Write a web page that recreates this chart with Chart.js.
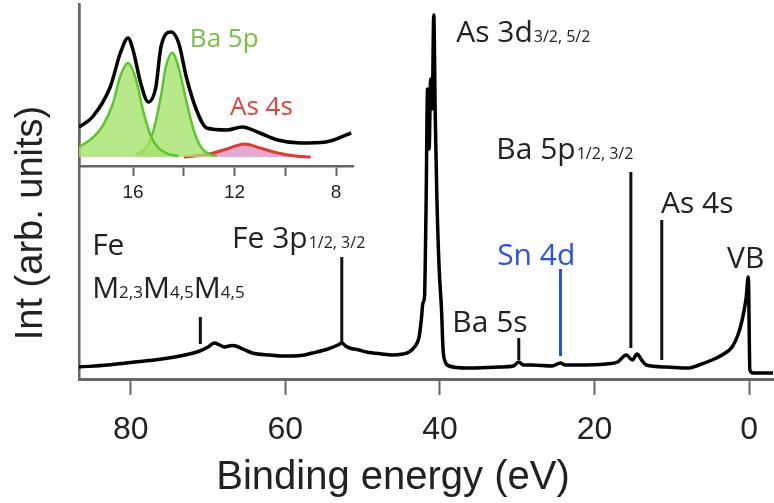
<!DOCTYPE html>
<html lang="en">
<head>
    <meta charset="UTF-8">
    <title>Binding energy spectrum</title>
    <script src="https://cdn.jsdelivr.net/npm/chart.js"></script>
    <style>
        body { margin: 0; background: #fff; }
        #wrap { position: relative; width: 774px; height: 503px; overflow: hidden; }
        #mainChart { position: absolute; left: 0; top: 0; }
        #insetChart { position: absolute; left: 0; top: 0; }
    </style>
</head>
<body>
<div id="wrap">
    <canvas id="mainChart" width="774" height="503"></canvas>
    <canvas id="insetChart" width="360" height="212"></canvas>
</div>

<script>
    // ---- main spectrum (binding energy in eV, intensity in arb. units)
    var energy = [86.7, 83, 80, 76, 73, 71.1, 70, 69.2, 68.5, 67.9, 66.9, 66.4, 65.5, 64.3, 62, 59.9, 58, 56.5, 54.5, 53.2,
        52.7, 52.2, 51.7, 50.5, 49.5, 47.5, 46.2, 44.8, 44.0, 43.3, 42.7, 42.4, 42.2, 42.0, 41.8, 41.6, 41.4, 41.2, 41.0, 40.8,
        40.6, 40.4, 40.1, 39.8, 39.6, 39.3, 38.8, 36.6, 32.3, 30.5, 29.8, 29.2, 28.1, 25.5, 24.4, 23.8, 22.4, 18.5, 17.0, 15.9,
        15.1, 14.5, 13.9, 13.3, 10.7, 7.8, 6.5, 4.8, 3.5, 2.2, 1.4, 0.9, 0.4, 0.1, -0.1, -0.5, -3.1];
    var intensity = [12, 14, 16.5, 20, 24, 28, 32, 36, 34, 32, 33.5, 33, 30, 26, 24, 23, 23.5, 26, 30, 34,
        36, 33, 31, 29, 27, 25, 24, 25, 27, 32, 42, 60, 76, 82, 170, 290, 230, 300, 270, 364,
        260, 182, 110, 70, 30, 17, 13, 11, 12, 13, 17, 14, 14, 13, 16, 14, 14, 15, 17, 24,
        19, 25, 19, 14, 12, 11, 14, 19, 24, 32, 45, 59, 80, 102, 9, 6, 6];

    var xTicks = [80, 60, 40, 20, 0];

    // marker lines: energy, from, to
    var markerEnergy = [71.0, 52.7, 29.8, 24.4, 15.3, 11.3];
    var markerFrom = [35, 36, 19, 23, 31, 19];
    var markerTo = [62, 122, 41, 110, 207, 159];
    var markerColor = ['#111', '#111', '#111', '#2a4ff0', '#111', '#111'];

    // peak labels: text, subscript, energy, height
    var labelText = ['As 3d', 'Ba 5p', 'As 4s', 'VB', 'Sn 4d', 'Ba 5s', 'Fe', 'M', 'Fe 3p'];
    var labelSub = ['3/2, 5/2', '1/2, 3/2', '', '', '', '', '', '', '1/2, 3/2'];
    var labelEnergy = [37.9, 32.7, 11.4, 2.85, 32.6, 38.4, 85.0, 85.0, 66.9];
    var labelHeight = [337, 220, 166, 111, 114, 47, 124, 81, 131];
    var labelColor = ['#222', '#222', '#222', '#222', '#2a4ff0', '#222', '#222', '#222', '#222'];

    // ---- inset: Ba 5p / As 4s region
    var insetEnergy = [18.13, 17.6, 16.9, 16.5, 16.2, 16.0, 15.7, 15.4, 15.1, 14.9, 14.5, 14.2, 13.9, 13.5, 13.1, 12.3, 11.7, 11.0, 10.3, 9.4, 8.4, 7.4];
    var insetTotal = [39, 49, 79, 113, 128, 116, 83, 64, 79, 119, 134, 123, 89, 56, 38, 36, 39, 33, 26, 23, 24, 33];

    var ba5pEnergyA = [18.13, 17.6, 17.2, 16.8, 16.5, 16.2, 15.9, 15.6, 15.3, 15.0, 14.6, 14.2];
    var ba5pFitA = [19, 28, 40, 62, 90, 103, 88, 55, 30, 18, 12, 10];
    var ba5pEnergyB = [15.9, 15.5, 15.2, 14.9, 14.7, 14.45, 14.2, 13.9, 13.6, 13.3, 13.0, 12.7];
    var ba5pFitB = [11, 18, 35, 70, 100, 113, 98, 65, 35, 18, 12, 10];
    var as4sEnergy = [14.0, 13.0, 12.3, 11.6, 11.0, 10.3, 9.6, 9.0];
    var as4sFit = [9, 12, 17, 22, 18, 13, 10, 9];

    var insetTicks = [16, 14, 12, 10, 8];
    var insetTickLabels = ['16', '', '12', '', '8'];

    function pts(xs, ys) {
        return xs.map(function (x, i) { return { x: x, y: ys[i] }; });
    }

    var axisFont = 'Liberation Sans, Arial, sans-serif';
    var labelFont = '"Open Sans", "Noto Sans", sans-serif';

    var mainDatasets = [];
    markerEnergy.forEach(function (e, i) {
        mainDatasets.push({
            data: [{ x: e, y: markerFrom[i] }, { x: e, y: markerTo[i] }],
            borderColor: markerColor[i],
            borderWidth: 3,
            pointRadius: 0,
            borderCapStyle: 'butt'
        });
    });
    mainDatasets.push({
        data: pts(energy, intensity),
        borderColor: '#000',
        borderWidth: 3.5,
        pointRadius: 0,
        cubicInterpolationMode: 'monotone'
    });

    // text drawn from the data scales
    var textPlugin = {
        id: 'peakText',
        afterDatasetsDraw: function (chart) {
            var ctx = chart.ctx;
            var xs = chart.scales.x, ys = chart.scales.y;
            ctx.save();
            ctx.textBaseline = 'alphabetic';
            ctx.textAlign = 'left';
            labelText.forEach(function (t, i) {
                var px = xs.getPixelForValue(labelEnergy[i]);
                var py = ys.getPixelForValue(labelHeight[i]);
                ctx.fillStyle = labelColor[i];
                ctx.font = '30px ' + labelFont;
                if (t === 'M') {
                    // M2,3M4,5M4,5
                    var parts = [['M', 30], ['2,3', 17], ['M', 30], ['4,5', 17], ['M', 30], ['4,5', 17]];
                    var cx = px;
                    parts.forEach(function (p) {
                        ctx.font = p[1] + 'px ' + labelFont;
                        ctx.fillText(p[0], cx, py);
                        cx += ctx.measureText(p[0]).width;
                    });
                    return;
                }
                ctx.fillText(t, px, py);
                if (labelSub[i]) {
                    var w = ctx.measureText(t).width;
                    ctx.font = '16px ' + labelFont;
                    ctx.fillText(labelSub[i], px + w + 1, py);
                }
            });
            // axis titles
            ctx.fillStyle = '#222';
            ctx.font = '40px ' + axisFont;
            ctx.textAlign = 'center';
            ctx.textBaseline = 'middle';
            ctx.fillText('Binding energy (eV)', 393, 478);
            ctx.translate(32, 223);
            ctx.rotate(-Math.PI / 2);
            ctx.font = '38px ' + axisFont;
            ctx.fillText('Int (arb. units)', 0, 0);
            ctx.restore();
        }
    };

    new Chart(document.getElementById('mainChart'), {
        type: 'line',
        data: { datasets: mainDatasets },
        options: {
            responsive: false,
            animation: false,
            layout: { padding: { top: 4, right: 0, left: 0, bottom: 0 } },
            plugins: { legend: { display: false }, tooltip: { enabled: false } },
            scales: {
                x: {
                    type: 'linear',
                    reverse: true,
                    min: -3.1,
                    max: 86.7,
                    afterBuildTicks: function (axis) { axis.ticks = xTicks.map(function (v) { return { value: v }; }); },
                    afterFit: function (axis) { axis.height = 124; },
                    grid: { drawOnChartArea: false, tickLength: 16, tickWidth: 2, color: '#666' },
                    border: { display: true, color: '#666', width: 3 },
                    ticks: { color: '#222', font: { family: axisFont, size: 32 }, padding: 16, maxRotation: 0, autoSkip: false }
                },
                y: {
                    min: 0,
                    max: 375,
                    afterFit: function (axis) { axis.width = 79; },
                    grid: { display: false },
                    border: { display: true, color: '#666', width: 2.5 },
                    ticks: { display: false }
                }
            }
        },
        plugins: [textPlugin]
    });

    var insetText = {
        id: 'insetText',
        afterDatasetsDraw: function (chart) {
            var ctx = chart.ctx;
            var xs = chart.scales.x, ys = chart.scales.y;
            ctx.save();
            ctx.font = '26px ' + labelFont;
            ctx.textAlign = 'left';
            ctx.textBaseline = 'alphabetic';
            ctx.fillStyle = '#78c043';
            ctx.fillText('Ba 5p', xs.getPixelForValue(13.76), ys.getPixelForValue(119));
            ctx.fillStyle = '#e5403a';
            ctx.fillText('As 4s', xs.getPixelForValue(12.18), ys.getPixelForValue(51));
            ctx.restore();
        }
    };

    new Chart(document.getElementById('insetChart'), {
        type: 'line',
        data: {
            datasets: [
                {
                    data: pts(ba5pEnergyA, ba5pFitA),
                    borderColor: '#5cc62c', borderWidth: 2.5, pointRadius: 0,
                    backgroundColor: 'rgba(165,228,110,0.8)', fill: { value: 9 },
                    cubicInterpolationMode: 'monotone'
                },
                {
                    data: pts(ba5pEnergyB, ba5pFitB),
                    borderColor: '#5cc62c', borderWidth: 2.5, pointRadius: 0,
                    backgroundColor: 'rgba(165,228,110,0.8)', fill: { value: 9 },
                    cubicInterpolationMode: 'monotone'
                },
                {
                    data: pts(as4sEnergy, as4sFit),
                    borderColor: '#e8372f', borderWidth: 3, pointRadius: 0,
                    backgroundColor: 'rgba(222,150,200,0.8)', fill: { value: 9 },
                    cubicInterpolationMode: 'monotone'
                },
                {
                    data: pts(insetEnergy, insetTotal),
                    borderColor: '#000', borderWidth: 3.5, pointRadius: 0,
                    cubicInterpolationMode: 'monotone'
                }
            ]
        },
        options: {
            responsive: false,
            animation: false,
            layout: { padding: { top: 5, right: 7, left: 0, bottom: 0 } },
            plugins: { legend: { display: false }, tooltip: { enabled: false } },
            scales: {
                x: {
                    type: 'linear',
                    reverse: true,
                    min: 7.33,
                    max: 18.13,
                    afterBuildTicks: function (axis) { axis.ticks = insetTicks.map(function (v) { return { value: v }; }); },
                    afterFit: function (axis) { axis.height = 46; },
                    grid: { drawOnChartArea: false, tickLength: 10, tickWidth: 2, color: '#666' },
                    border: { display: true, color: '#666', width: 2.5 },
                    ticks: {
                        color: '#222', font: { family: axisFont, size: 19 }, padding: 5, maxRotation: 0, autoSkip: false,
                        callback: function (v, i) { return insetTickLabels[i]; }
                    }
                },
                y: {
                    min: 0,
                    max: 161,
                    afterFit: function (axis) { axis.width = 79; },
                    grid: { display: false },
                    border: { display: true, color: '#666', width: 2.5 },
                    ticks: { display: false }
                }
            }
        },
        plugins: [insetText]
    });
</script>
</body>
</html>
